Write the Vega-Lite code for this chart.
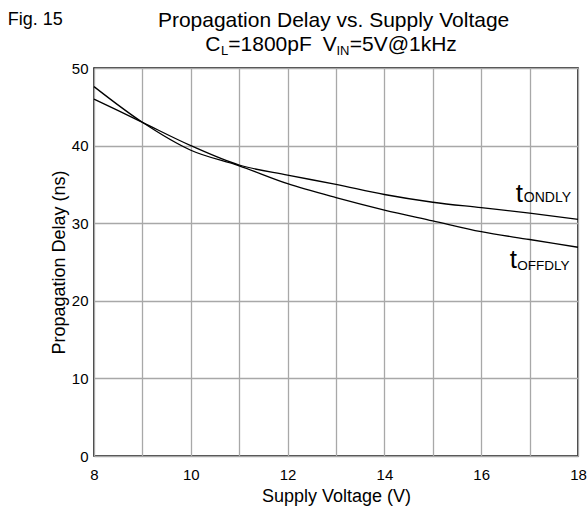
{
  "$schema": "https://vega.github.io/schema/vega-lite/v6.json",
  "width": 484,
  "height": 388,
  "autosize": {"type": "none"},
  "padding": {"left": 94, "top": 68, "right": 9, "bottom": 56},
  "background": "white",
  "data": {
    "values": [
      {"series": "ONDLY", "voltage": 8, "delay": 46.0},
      {"series": "ONDLY", "voltage": 9, "delay": 43.0},
      {"series": "ONDLY", "voltage": 10, "delay": 40.0},
      {"series": "ONDLY", "voltage": 11, "delay": 37.5},
      {"series": "ONDLY", "voltage": 12, "delay": 36.2},
      {"series": "ONDLY", "voltage": 13, "delay": 35.0},
      {"series": "ONDLY", "voltage": 14, "delay": 33.7},
      {"series": "ONDLY", "voltage": 15, "delay": 32.7},
      {"series": "ONDLY", "voltage": 16, "delay": 32.0},
      {"series": "ONDLY", "voltage": 17, "delay": 31.3},
      {"series": "ONDLY", "voltage": 18, "delay": 30.5},
      {"series": "OFFDLY", "voltage": 8, "delay": 47.6},
      {"series": "OFFDLY", "voltage": 9, "delay": 43.0},
      {"series": "OFFDLY", "voltage": 10, "delay": 39.4},
      {"series": "OFFDLY", "voltage": 11, "delay": 37.4},
      {"series": "OFFDLY", "voltage": 12, "delay": 35.1},
      {"series": "OFFDLY", "voltage": 13, "delay": 33.3},
      {"series": "OFFDLY", "voltage": 14, "delay": 31.7},
      {"series": "OFFDLY", "voltage": 15, "delay": 30.3},
      {"series": "OFFDLY", "voltage": 16, "delay": 28.9},
      {"series": "OFFDLY", "voltage": 17, "delay": 27.9},
      {"series": "OFFDLY", "voltage": 18, "delay": 26.9}
    ]
  },
  "layer": [
    {
      "mark": {"type": "line", "color": "black", "strokeWidth": 1.3, "interpolate": "monotone"},
      "encoding": {
        "x": {
          "field": "voltage", "type": "quantitative",
          "scale": {"domain": [8, 18], "nice": false},
          "title": "Supply Voltage (V)",
          "axis": {
            "values": [8, 9, 10, 11, 12, 13, 14, 15, 16, 17, 18],
            "labelExpr": "datum.value % 2 === 0 ? datum.label : ''",
            "labelFlush": false, "labelOverlap": false,
            "labelPadding": 11, "titlePadding": 5
          }
        },
        "y": {
          "field": "delay", "type": "quantitative",
          "scale": {"domain": [0, 50], "nice": false},
          "title": "Propagation Delay (ns)",
          "axis": {
            "values": [0, 10, 20, 30, 40, 50],
            "labelPadding": 6, "titlePadding": 3
          }
        },
        "detail": {"field": "series"}
      }
    },
    {
      "data": {"values": [{}]},
      "mark": {"type": "text", "text": "Fig. 15", "align": "left", "baseline": "alphabetic", "fontSize": 18},
      "encoding": {"x": {"datum": 6.217}, "y": {"datum": 55.55}}
    },
    {
      "data": {"values": [{}]},
      "mark": {"type": "text", "text": "Propagation Delay vs. Supply Voltage", "align": "center", "baseline": "alphabetic", "fontSize": 21},
      "encoding": {"x": {"datum": 12.95}, "y": {"datum": 55.3}}
    },
    {
      "data": {"values": [{}]},
      "mark": {"type": "text", "text": "C", "align": "left", "baseline": "alphabetic", "fontSize": 21},
      "encoding": {"x": {"datum": 10.3}, "y": {"datum": 52.13}}
    },
    {
      "data": {"values": [{}]},
      "mark": {"type": "text", "text": "L", "align": "left", "baseline": "alphabetic", "fontSize": 13},
      "encoding": {"x": {"datum": 10.625}, "y": {"datum": 51.68}}
    },
    {
      "data": {"values": [{}]},
      "mark": {"type": "text", "text": "=1800pF", "align": "left", "baseline": "alphabetic", "fontSize": 21},
      "encoding": {"x": {"datum": 10.775}, "y": {"datum": 52.13}}
    },
    {
      "data": {"values": [{}]},
      "mark": {"type": "text", "text": "V", "align": "left", "baseline": "alphabetic", "fontSize": 21},
      "encoding": {"x": {"datum": 12.725}, "y": {"datum": 52.13}}
    },
    {
      "data": {"values": [{}]},
      "mark": {"type": "text", "text": "IN", "align": "left", "baseline": "alphabetic", "fontSize": 13},
      "encoding": {"x": {"datum": 13.01}, "y": {"datum": 51.68}}
    },
    {
      "data": {"values": [{}]},
      "mark": {"type": "text", "text": "=5V@1kHz", "align": "left", "baseline": "alphabetic", "fontSize": 21},
      "encoding": {"x": {"datum": 13.283}, "y": {"datum": 52.13}}
    },
    {
      "data": {"values": [{}]},
      "mark": {"type": "text", "text": "t", "align": "left", "baseline": "alphabetic", "fontSize": 26},
      "encoding": {"x": {"datum": 16.713}, "y": {"datum": 32.77}}
    },
    {
      "data": {"values": [{}]},
      "mark": {"type": "text", "text": "ONDLY", "align": "left", "baseline": "alphabetic", "fontSize": 14},
      "encoding": {"x": {"datum": 16.88}, "y": {"datum": 32.77}}
    },
    {
      "data": {"values": [{}]},
      "mark": {"type": "text", "text": "t", "align": "left", "baseline": "alphabetic", "fontSize": 26},
      "encoding": {"x": {"datum": 16.589}, "y": {"datum": 24.26}}
    },
    {
      "data": {"values": [{}]},
      "mark": {"type": "text", "text": "OFFDLY", "align": "left", "baseline": "alphabetic", "fontSize": 13.5},
      "encoding": {"x": {"datum": 16.745}, "y": {"datum": 24.0}}
    }
  ],
  "config": {
    "font": "Liberation Sans",
    "view": {"stroke": "black", "strokeWidth": 1.5},
    "text": {"color": "black", "font": "Liberation Sans"},
    "axis": {
      "labelFont": "Liberation Sans", "labelFontSize": 15, "labelColor": "black",
      "titleFont": "Liberation Sans", "titleFontSize": 18, "titleFontWeight": "normal", "titleColor": "black",
      "gridColor": "#a8a8a8", "gridWidth": 1.3, "gridOpacity": 1,
      "domain": false, "ticks": false
    }
  }
}
